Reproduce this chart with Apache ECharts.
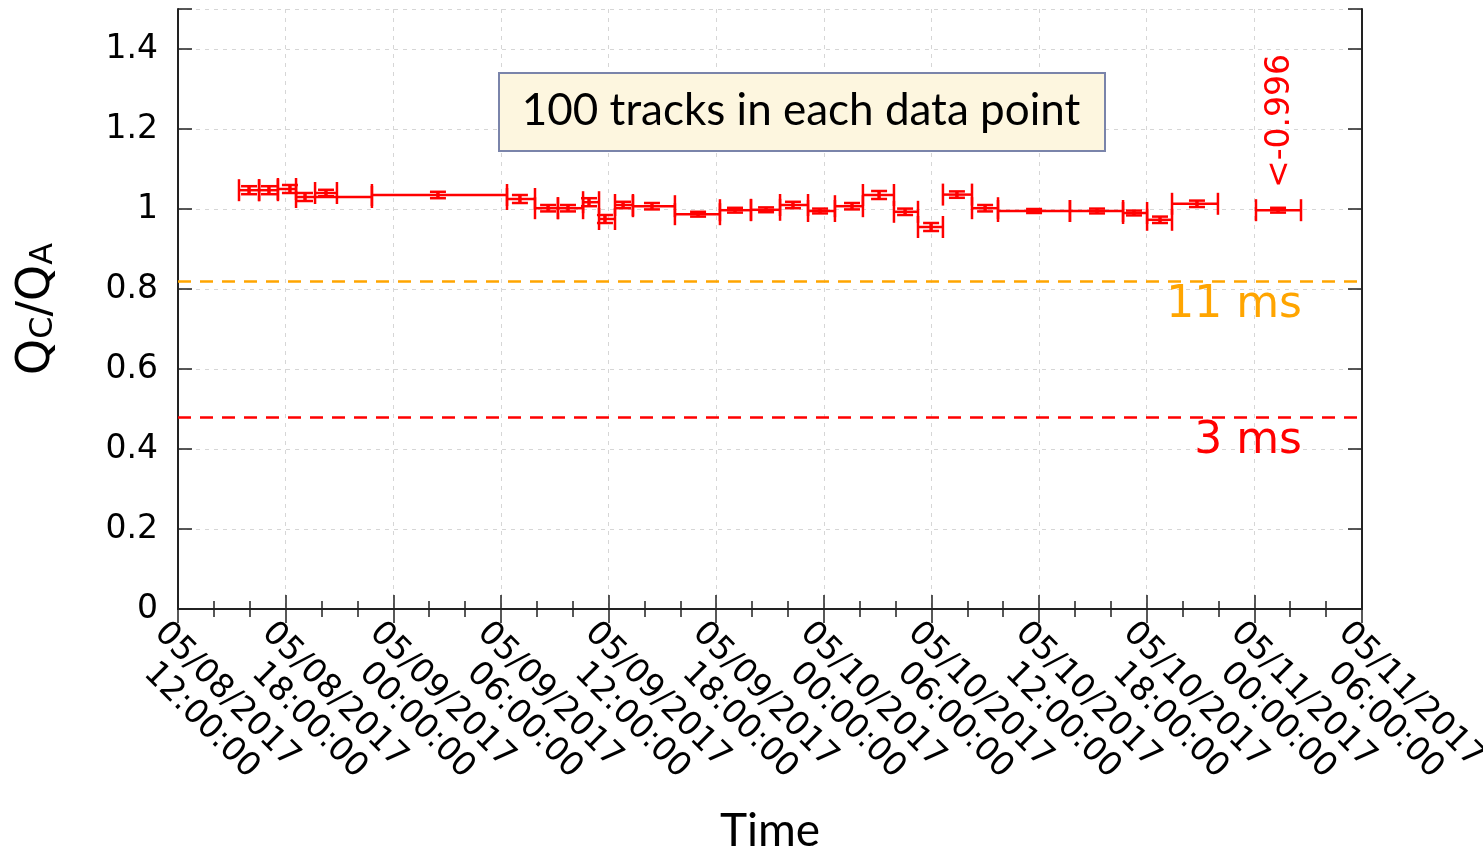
<!DOCTYPE html>
<html>
<head>
<meta charset="utf-8">
<script src="https://cdn.jsdelivr.net/npm/echarts@6/dist/echarts.min.js"></script>
<style>html,body{margin:0;padding:0;background:#fff}#main{width:1483px;height:849px}</style>
</head>
<body>
<div id="main"></div>
<script>
// time in hours since 05/08/2017 00:00
let tStart=[15.40,16.52,17.57,18.58,19.64,22.81,30.34,31.90,33.18,34.58,35.47,36.36,37.36,39.70,42.21,43.94,45.56,47.12,48.62,50.18,51.91,53.25,54.64,56.26,57.71,61.72,64.68,66.02,67.41,72.09]
let tMid  =[15.96,17.07,18.24,19.08,20.25,26.49,31.06,32.63,33.74,34.91,35.80,36.81,38.42,40.99,43.05,44.78,46.28,47.79,49.57,51.08,52.53,53.98,55.42,56.99,59.72,63.23,65.29,66.74,68.80,73.32]
let tEnd  =[16.52,17.57,18.58,22.81,20.86,30.34,31.90,33.18,34.58,35.47,36.36,37.36,39.70,42.21,43.94,45.56,47.12,48.62,50.18,51.91,53.25,54.64,56.26,57.71,61.72,64.68,66.02,67.41,69.97,74.60]
let ratio =[1.047,1.047,1.050,1.030,1.040,1.035,1.025,1.002,1.002,1.017,0.975,1.010,1.007,0.987,0.997,0.998,1.010,0.995,1.007,1.035,0.993,0.955,1.036,1.002,0.995,0.995,0.990,0.973,1.013,0.997]
let ratioErr=[0.010,0.010,0.010,0.010,0.008,0.008,0.010,0.008,0.008,0.010,0.010,0.008,0.008,0.006,0.006,0.006,0.008,0.006,0.008,0.010,0.008,0.010,0.008,0.008,0.005,0.006,0.006,0.008,0.008,0.006]

let tickLabels=['05/08/2017\n12:00:00','05/08/2017\n18:00:00','05/09/2017\n00:00:00','05/09/2017\n06:00:00',
  '05/09/2017\n12:00:00','05/09/2017\n18:00:00','05/10/2017\n00:00:00','05/10/2017\n06:00:00',
  '05/10/2017\n12:00:00','05/10/2017\n18:00:00','05/11/2017\n00:00:00','05/11/2017\n06:00:00']

let limitValues=[0.82,0.48]
let limitNames=['11 ms','3 ms']
let limitColors=['#ffa500','#ff0000']

let noteX=73.45, noteY=1.22, noteText='<-0.996'

let points=tMid.map((m,i)=>[tStart[i],m,tEnd[i],ratio[i],ratioErr[i]])

function renderItem(params,api){
  let y=api.value(3), e=api.value(4)
  let pL=api.coord([api.value(0),y]), pR=api.coord([api.value(2),y])
  let pT=api.coord([api.value(1),y+e]), pB=api.coord([api.value(1),y-e])
  let st={stroke:'#ff0000',lineWidth:2.5}
  let cap=11, cw=8
  return {type:'group',children:[
    {type:'line',shape:{x1:pL[0],y1:pL[1],x2:pR[0],y2:pR[1]},style:st},
    {type:'line',shape:{x1:pL[0],y1:pL[1]-cap,x2:pL[0],y2:pL[1]+cap},style:st},
    {type:'line',shape:{x1:pR[0],y1:pR[1]-cap,x2:pR[0],y2:pR[1]+cap},style:st},
    {type:'line',shape:{x1:pT[0],y1:pT[1],x2:pB[0],y2:pB[1]},style:{stroke:'#ff0000',lineWidth:3.5}},
    {type:'line',shape:{x1:pT[0]-cw,y1:pT[1],x2:pT[0]+cw,y2:pT[1]},style:st},
    {type:'line',shape:{x1:pB[0]-cw,y1:pB[1],x2:pB[0]+cw,y2:pB[1]},style:st}
  ]}
}

var myChart=echarts.init(document.getElementById('main'))
let axisCommon={
  axisLine:{show:true,lineStyle:{color:'#222',width:2}},
  axisTick:{show:true,inside:true,length:14,lineStyle:{color:'#222',width:1.5}}
}
option={
  animation:false,
  backgroundColor:'#fff',
  grid:{left:178,right:121,top:9,bottom:240,containLabel:false,outerBoundsMode:'none'},
  xAxis:[{
    type:'value',min:12,max:78,interval:6,position:'bottom',
    ...axisCommon,
    minorTick:{show:true,splitNumber:3,length:8,lineStyle:{color:'#222',width:1.5}},
    splitLine:{show:true,lineStyle:{color:'#d6d6d6',type:[4,5],width:1}},
    axisLabel:{
      rotate:-45,margin:12,verticalAlign:'top',fontFamily:'DejaVu Sans',fontSize:33,color:'#000',lineHeight:36,
      formatter:function(v){
        let s=tickLabels[Math.round((v-12)/6)]||''
        return s.split('\n').map(t=>'{a|'+t+'}').join('\n')
      },
      rich:{a:{fontFamily:'DejaVu Sans',fontSize:33,color:'#000',width:174,align:'center',lineHeight:36}}
    },
    name:'Time',nameLocation:'middle',nameGap:195,
    nameTextStyle:{fontFamily:'Lato',fontSize:46,color:'#000'}
  },{
    type:'value',min:12,max:78,interval:6,position:'top',
    ...axisCommon,
    minorTick:{show:true,splitNumber:3,length:8,lineStyle:{color:'#222',width:1.5}},
    splitLine:{show:false},axisLabel:{show:false}
  }],
  yAxis:[{
    type:'value',min:0,max:1.5,interval:0.2,position:'left',
    ...axisCommon,
    splitLine:{show:true,lineStyle:{color:'#d6d6d6',type:[4,5],width:1}},
    axisLabel:{margin:20,fontFamily:'DejaVu Sans',fontSize:33,color:'#000',
      formatter:v=>v>1.45?'':String(+v.toFixed(1))},
    name:'{q|Q}{s|C}{q|/Q}{s|A}',nameLocation:'middle',nameGap:118,nameRotate:90,
    nameTextStyle:{rich:{
      q:{fontFamily:'DejaVu Sans',fontSize:46,color:'#000'},
      s:{fontFamily:'DejaVu Sans',fontSize:32,color:'#000',verticalAlign:'bottom'}
    }}
  },{
    type:'value',min:0,max:1.5,interval:0.2,position:'right',
    ...axisCommon,splitLine:{show:false},axisLabel:{show:false}
  }],
  series:[{
    type:'line',data:[],
    markLine:{
      silent:true,symbol:'none',
      data:limitValues.map((v,i)=>({
        yAxis:v,
        lineStyle:{color:limitColors[i],type:[13,9],width:2.5},
        label:{show:true,position:'insideEndBottom',formatter:limitNames[i],distance:[60,3],
          color:limitColors[i],fontFamily:'DejaVu Sans',fontSize:44}
      }))
    }
  },{
    type:'custom',renderItem:renderItem,data:points,clip:true,
    encode:{x:[0,1,2],y:[3,4]}
  }]
}
myChart.setOption(option)

let np=myChart.convertToPixel({xAxisIndex:0,yAxisIndex:0},[noteX,noteY])
myChart.setOption({graphic:[
  {type:'rect',left:498,top:72,shape:{width:606,height:78},
    style:{fill:'#fdf6df',stroke:'#7a84aa',lineWidth:2}},
  {type:'text',x:801,y:111,style:{text:'100 tracks in each data point',fontFamily:'Lato',fontSize:44,
    fill:'#000',align:'center',verticalAlign:'middle'}},
  {type:'text',x:np[0],y:np[1],rotation:Math.PI/2,style:{text:noteText,fontFamily:'DejaVu Sans',fontSize:33,
    fill:'#ff0000',align:'center',verticalAlign:'middle'}}
]})
</script>
</body>
</html>
